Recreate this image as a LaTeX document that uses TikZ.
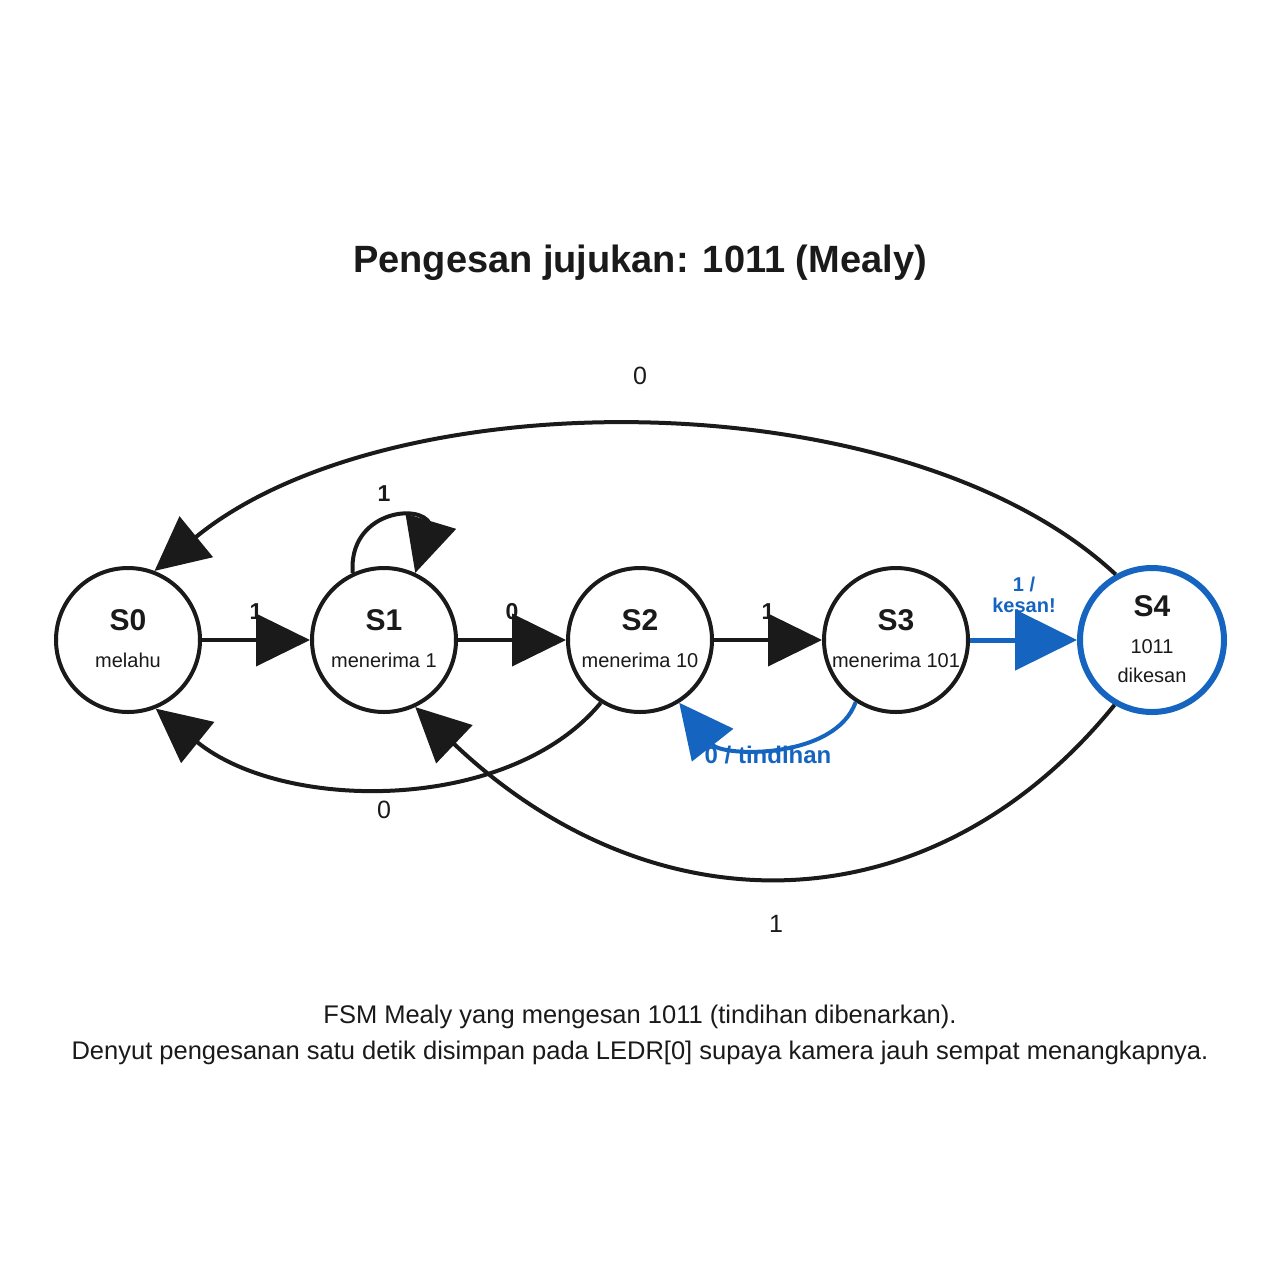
\documentclass[tikz,border=0pt]{standalone}
\usepackage{fontspec}
\setmainfont{Liberation Sans}
\usetikzlibrary{arrows.meta}
\definecolor{ink}{HTML}{1A1A1A}
\definecolor{hl}{HTML}{1565C0}
\tikzset{
  state/.style={circle, draw=ink, line width=4pt, minimum size=144pt, inner sep=0pt, fill=white},
  accept/.style={circle, draw=hl, line width=6pt, minimum size=144pt, inner sep=0pt, fill=white},
  sname/.style={font=\fontsize{30}{34}\selectfont\bfseries, text=ink},
  ssub/.style={font=\fontsize{20}{24}\selectfont, text=ink},
  elab/.style={font=\fontsize{25}{29}\selectfont, text=ink},
  blab/.style={font=\fontsize{23}{27}\selectfont\bfseries, text=ink},
  hlab/.style={font=\fontsize{20}{24}\selectfont\bfseries, text=hl, align=center},
  hlabb/.style={font=\fontsize{24}{28}\selectfont\bfseries, text=hl},
  edge/.style={draw=ink, line width=4pt, -{Triangle[length=54pt,width=52pt]}},
  hedge/.style={draw=hl, line width=5pt, -{Triangle[length=62pt,width=60pt]}},
  hcurve/.style={draw=hl, line width=4pt, -{Triangle[length=54pt,width=52pt]}},
}
\begin{document}
\begin{tikzpicture}[x=1pt,y=-1pt]
\useasboundingbox (0,0) rectangle (1280,1280);
\fill[white] (0,0) rectangle (1280,1280);
\node[font=\fontsize{38}{44}\selectfont\bfseries, text=ink] (title) at (640,263) {Pengesan jujukan: 1011 (Mealy)};

% states
\node[state] (S0) at (128,640) {};
\node[state] (S1) at (384,640) {};
\node[state] (S2) at (640,640) {};
\node[state] (S3) at (896,640) {};
\node[accept] (S4) at (1152,640) {};

% edge labels (drawn under the arrows)
\node[blab] (l01) at (256,612) {1};
\node[blab] (l12) at (512,612) {0};
\node[blab] (l23) at (768,612) {1};
\node[blab] (l11) at (384,494) {1};
\node[elab] (l40) at (640,376) {0};
\node[elab] (l20) at (384,810) {0};
\node[elab] (l41) at (776,924) {1};
\node[hlab] (l34) at (1024,595) {1 /\\[-3pt]kesan!};
\node[hlabb] (l32) at (768,755) {0 / tindihan};

% connectors
\draw[edge] (S0) -- (S1);
\draw[edge] (S1) -- (S2);
\draw[edge] (S2) -- (S3);
\draw[hedge] (S3) -- (S4);
\coordinate (lp) at (430,524);
\draw[edge] (S1.115) .. controls (348,512) and (420,502) .. (lp) -- (S1.65);
\draw[edge] (S4.119) .. controls (905,378) and (390,378) .. (S0.69);
\draw[edge] (S2.-122) .. controls (510,813) and (285,813) .. (S0.-68);
\draw[edge] (S4.-120) .. controls (930,932) and (652,932) .. (S1.-65);
\draw[hcurve] (S3.-123) .. controls (835,760) and (722,757) .. (S2.-58);

% state texts
\node[sname] (n0) at (128,620) {S0};
\node[ssub] (d0) at (128,660) {melahu};
\node[sname] (n1) at (384,620) {S1};
\node[ssub] (d1) at (384,660) {menerima 1};
\node[sname] (n2) at (640,620) {S2};
\node[ssub] (d2) at (640,660) {menerima 10};
\node[sname] (n3) at (896,620) {S3};
\node[ssub] (d3) at (896,660) {menerima 101};
\node[sname] (n4) at (1152,606) {S4};
\node[ssub] (d4a) at (1152,647) {1011};
\node[ssub] (d4b) at (1152,675) {dikesan};

% caption
\node[font=\fontsize{25.5}{30}\selectfont, text=ink] (cap1) at (640,1017) {FSM Mealy yang mengesan 1011 (tindihan dibenarkan).};
\node[font=\fontsize{25.5}{30}\selectfont, text=ink] (cap2) at (640,1053) {Denyut pengesanan satu detik disimpan pada LEDR[0] supaya kamera jauh sempat menangkapnya.};
\end{tikzpicture}
\end{document}
